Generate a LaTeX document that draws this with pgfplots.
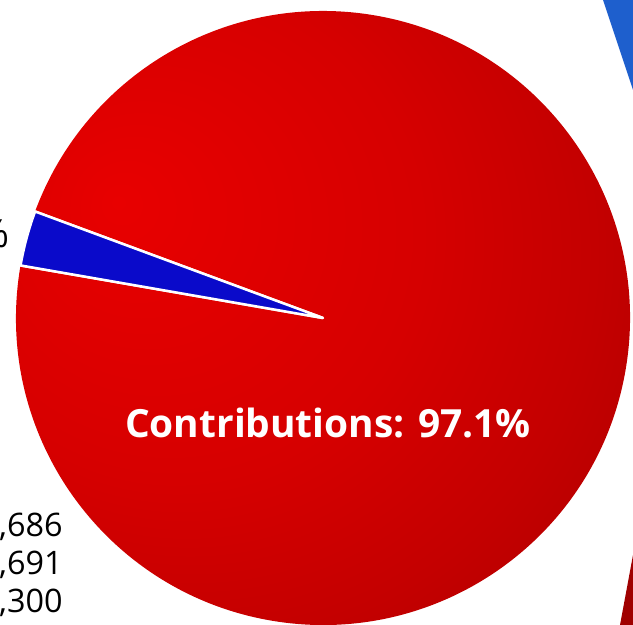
\documentclass[border=0pt]{standalone}
\usepackage{fontspec}
\setmainfont{Open Sans}
\usepackage{pgfplots}
\pgfplotsset{compat=1.18}
\usepackage{pgfplotstable}
\definecolor{rA}{RGB}{232,0,0}
\definecolor{rB}{RGB}{214,0,0}
\definecolor{rC}{RGB}{196,0,0}
\definecolor{rD}{RGB}{172,0,0}
\definecolor{rE}{RGB}{152,0,0}
\definecolor{rF}{RGB}{140,0,0}
\definecolor{blueA}{RGB}{10,10,202}
\definecolor{blueB}{RGB}{30,95,205}
\definecolor{redR}{RGB}{160,0,0}
\pgfdeclareradialshading{redglow}{\pgfpoint{-11.7bp}{6.6bp}}{color(0bp)=(rA); color(14bp)=(rB); color(22bp)=(rC); color(30bp)=(rD); color(40bp)=(rE); color(50bp)=(rF)}
\pgfplotstableread{
label value
Contributions 97.1
Other 2.9
}\piedata
\begin{document}
\begin{tikzpicture}
\pgfplotstablegetelem{0}{value}\of\piedata \let\vA\pgfplotsretval
\pgfplotstablegetelem{1}{value}\of\piedata \let\vB\pgfplotsretval
\pgfmathsetmacro{\aS}{170.14}
\pgfmathsetmacro{\aM}{\aS+3.6*\vA}
\pgfmathsetmacro{\aE}{\aM+3.6*\vB}
\begin{axis}[
  hide axis, scale only axis,
  width=633bp, height=625bp,
  xmin=0, xmax=633, ymin=0, ymax=625,
  clip=true,
]
% fragments of neighbouring chart
\addplot[fill=blueB, draw=none] coordinates {(603,625) (633,625) (633,535) (603,625)};
\addplot[fill=redR, draw=none] coordinates {(633,70) (620,0) (633,0) (633,70)};
% pie: large slice with radial glow
\begin{scope}
\clip (axis cs:323,307) -- ++(\aS:307bp) arc[start angle=\aS, end angle=\aM, radius=307bp] -- cycle;
\shade[shading=redglow] (axis cs:-117,-133) rectangle (axis cs:763,747);
\end{scope}
\draw[white, line width=2.5bp, line join=round]
  (axis cs:323,307) -- ++(\aS:307bp) (axis cs:323,307) -- ++(\aM:307bp);
\fill[blueA, draw=white, line width=2.5bp, line join=round]
  (axis cs:323,307) -- ++(\aM:307bp) arc[start angle=\aM, end angle=\aE, radius=307bp] -- cycle;
\node[anchor=base, text=white, font=\fontsize{39}{44}\selectfont\bfseries, inner sep=0pt] at (axis cs:328,187) {Contributions: 97.1\%};
\node[anchor=base east, text=black, font=\fontsize{39}{44}\selectfont, inner sep=0pt] at (axis cs:10,377) {Other: 2.9\%};
\node[anchor=base west, text=black, font=\fontsize{32.5}{36}\selectfont, inner sep=0pt] at (axis cs:-1,88) {,686};
\node[anchor=base west, text=black, font=\fontsize{32.5}{36}\selectfont, inner sep=0pt] at (axis cs:-1,50) {,691};
\node[anchor=base west, text=black, font=\fontsize{32.5}{36}\selectfont, inner sep=0pt] at (axis cs:-1,13) {,300};
\end{axis}
\pgfresetboundingbox
\useasboundingbox (current axis.south west) rectangle (current axis.north east);
\end{tikzpicture}
\end{document}
